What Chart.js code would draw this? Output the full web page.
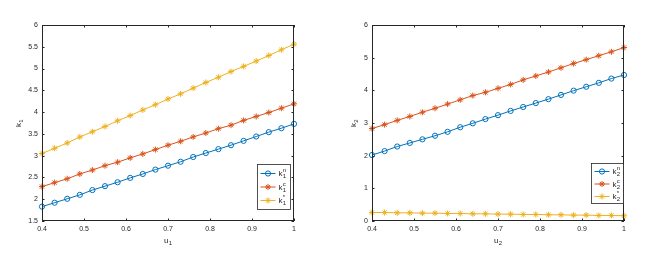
<!DOCTYPE html>
<html>
<head>
<meta charset="utf-8">
<script src="https://cdn.jsdelivr.net/npm/chart.js@4.4.1/dist/chart.umd.min.js"></script>
<style>
  html, body { margin: 0; padding: 0; background: #fff; }
  #wrap { position: relative; width: 650px; height: 256px; }
  canvas { position: absolute; top: 0; }
</style>
</head>
<body>
<div id="wrap">
  <canvas id="c1" width="325" height="256" style="left:0px"></canvas>
  <canvas id="c2" width="325" height="256" style="left:325px"></canvas>
</div>
<script>
// ---------- data ----------
const uValues = [0.40, 0.43, 0.46, 0.49, 0.52, 0.55, 0.58, 0.61, 0.64, 0.67, 0.70,
                 0.73, 0.76, 0.79, 0.82, 0.85, 0.88, 0.91, 0.94, 0.97, 1.00];

const k1n = [1.83, 1.92, 2.01, 2.10, 2.21, 2.30, 2.39, 2.49, 2.58, 2.68, 2.77,
             2.86, 2.97, 3.06, 3.15, 3.24, 3.34, 3.44, 3.54, 3.63, 3.73];
const k1c = [2.29, 2.38, 2.47, 2.58, 2.67, 2.77, 2.85, 2.95, 3.04, 3.14, 3.24,
             3.33, 3.43, 3.52, 3.62, 3.70, 3.81, 3.90, 3.99, 4.09, 4.19];
const k1s = [3.05, 3.17, 3.29, 3.43, 3.55, 3.67, 3.80, 3.92, 4.05, 4.17, 4.30,
             4.42, 4.55, 4.68, 4.80, 4.93, 5.05, 5.17, 5.30, 5.43, 5.56];

const k2n = [2.02, 2.14, 2.28, 2.39, 2.50, 2.61, 2.73, 2.87, 2.99, 3.12, 3.24,
             3.37, 3.49, 3.61, 3.73, 3.86, 3.99, 4.11, 4.23, 4.36, 4.47];
const k2c = [2.83, 2.95, 3.08, 3.20, 3.33, 3.45, 3.58, 3.71, 3.84, 3.94, 4.06,
             4.18, 4.32, 4.44, 4.56, 4.69, 4.82, 4.94, 5.06, 5.18, 5.31];
const k2s = [0.26, 0.26, 0.25, 0.25, 0.24, 0.24, 0.23, 0.23, 0.22, 0.22, 0.21,
             0.21, 0.20, 0.20, 0.19, 0.19, 0.18, 0.18, 0.17, 0.17, 0.16];

const seriesSup = ['n', 'c', '*'];
const xTicks1 = { min: 0.4, max: 1, step: 0.1 };
const yTicks1 = { min: 1.5, max: 6, step: 0.5 };
const yTicks2 = { min: 0, max: 6, step: 1 };

// ---------- styling ----------
const COLORS = ['#0072BD', '#D95319', '#EDB120'];
const STYLES = ['circle', 'star', 'star'];
const AXIS = '#262626';
const FONT = '"Liberation Sans", Arial, Helvetica, sans-serif';

function pts(ys) { return uValues.map((x, i) => ({ x: x, y: ys[i] })); }

function drawSubSup(ctx, base, sub, sup, x, y, size) {
  // x,y: left baseline of base text
  ctx.font = size + 'px ' + FONT;
  ctx.textAlign = 'left';
  ctx.textBaseline = 'alphabetic';
  ctx.fillText(base, x, y);
  const w = ctx.measureText(base).width;
  const s = Math.round(size * 0.7);
  ctx.font = s + 'px ' + FONT;
  let w2 = 0;
  if (sub) { ctx.fillText(sub, x + w + 0.3, y + size * 0.28); w2 = ctx.measureText(sub).width; }
  if (sup) { ctx.fillText(sup, x + w + 0.3, y - size * 0.45); }
  return w + Math.max(w2, sup ? ctx.measureText(sup).width : 0);
}

function drawMarker(ctx, style, x, y, r) {
  ctx.beginPath();
  if (style === 'circle') {
    ctx.arc(x, y, r, 0, Math.PI * 2);
  } else {
    for (let k = 0; k < 4; k++) {
      const a = k * Math.PI / 4;
      ctx.moveTo(x - r * Math.cos(a), y - r * Math.sin(a));
      ctx.lineTo(x + r * Math.cos(a), y + r * Math.sin(a));
    }
  }
  ctx.stroke();
}

const matlabPlugin = {
  id: 'matlab',
  afterDraw(chart, args, opts) {
    const ctx = chart.ctx, a = chart.chartArea;
    const xs = chart.scales.x, ys = chart.scales.y;
    ctx.save();
    ctx.strokeStyle = AXIS;
    ctx.lineWidth = 1;
    // box
    ctx.strokeRect(a.left + 0.5, a.top + 0.5, a.right - a.left - 1, a.bottom - a.top - 1);
    // inward ticks
    const tl = 2.5;
    ctx.beginPath();
    xs.ticks.forEach(t => {
      const px = Math.round(xs.getPixelForValue(t.value)) + 0.5;
      ctx.moveTo(px, a.bottom); ctx.lineTo(px, a.bottom - tl);
      ctx.moveTo(px, a.top); ctx.lineTo(px, a.top + tl);
    });
    ys.ticks.forEach(t => {
      const py = Math.round(ys.getPixelForValue(t.value)) + 0.5;
      ctx.moveTo(a.left, py); ctx.lineTo(a.left + tl, py);
      ctx.moveTo(a.right, py); ctx.lineTo(a.right - tl, py);
    });
    ctx.stroke();

    // axis titles
    ctx.fillStyle = AXIS;
    const idx = opts.index;
    // x title
    const xc = (a.left + a.right) / 2;
    drawSubSup(ctx, 'u', idx, null, xc - 4, a.bottom + 22, 8);
    // y title (rotated)
    ctx.save();
    ctx.translate(opts.yTitleX, (a.top + a.bottom) / 2);
    ctx.rotate(-Math.PI / 2);
    drawSubSup(ctx, 'k', idx, null, -4, 0, 8);
    ctx.restore();

    // legend
    const lg = opts.legend;
    const bx = Math.round(a.right - lg.right - lg.w) + 0.5;
    const by = Math.round(a.bottom - lg.bottom - lg.h) + 0.5;
    ctx.fillStyle = '#fff';
    ctx.fillRect(bx, by, lg.w, lg.h);
    ctx.strokeStyle = AXIS;
    ctx.lineWidth = 0.8;
    ctx.strokeRect(bx, by, lg.w, lg.h);
    chart.data.datasets.forEach((ds, i) => {
      const cy = by + lg.pad + i * lg.row;
      ctx.strokeStyle = ds.borderColor;
      ctx.lineWidth = 1;
      ctx.beginPath();
      ctx.moveTo(bx + 3, cy); ctx.lineTo(bx + 18, cy);
      ctx.stroke();
      drawMarker(ctx, ds.pointStyle, bx + 10.5, cy, ds.pointRadius);
      ctx.fillStyle = AXIS;
      drawSubSup(ctx, 'k', idx, seriesSup[i], bx + 21, cy + 2.5, 8);
    });
    ctx.restore();
  }
};

function makeChart(id, idx, series, yT, geom) {
  const datasets = series.map((s, i) => ({
    label: 'k' + idx + seriesSup[i],
    data: pts(s),
    borderColor: COLORS[i],
    backgroundColor: 'rgba(0,0,0,0)',
    pointBorderColor: COLORS[i],
    pointBackgroundColor: 'rgba(0,0,0,0)',
    borderWidth: 1,
    pointBorderWidth: 1,
    pointStyle: STYLES[i],
    pointRadius: STYLES[i] === 'circle' ? 2.6 : 3,
    tension: 0,
    clip: false
  }));
  const fmt = v => String(Math.round(v * 10) / 10);
  return new Chart(document.getElementById(id), {
    type: 'line',
    data: { datasets },
    options: {
      responsive: false,
      animation: false,
      devicePixelRatio: 1,
      layout: { padding: { left: 0, top: geom.top, right: geom.right, bottom: 0 } },
      plugins: {
        legend: { display: false },
        tooltip: { enabled: false },
        matlab: { index: String(idx), legend: geom.legend, yTitleX: geom.yTitleX }
      },
      scales: {
        x: {
          type: 'linear',
          min: xTicks1.min, max: xTicks1.max,
          ticks: { stepSize: xTicks1.step, callback: fmt, padding: 4, color: AXIS,
                   font: { size: 7, family: FONT }, maxRotation: 0, autoSkip: false },
          grid: { display: false, drawTicks: false },
          border: { display: false },
          afterFit: s => { s.height = geom.xh; }
        },
        y: {
          min: yT.min, max: yT.max,
          ticks: { stepSize: yT.step, callback: fmt, padding: 4, color: AXIS,
                   font: { size: 7, family: FONT }, autoSkip: false },
          grid: { display: false, drawTicks: false },
          border: { display: false },
          afterFit: s => { s.width = geom.yw; }
        }
      }
    },
    plugins: [matlabPlugin]
  });
}

makeChart('c1', 1, [k1n, k1c, k1s], yTicks1, {
  top: 25, right: 31, yw: 42, xh: 35, yTitleX: 21,
  legend: { right: 4, bottom: 12, w: 33, h: 45, pad: 9, row: 13.5 }
});
makeChart('c2', 2, [k2n, k2c, k2s], yTicks2, {
  top: 25, right: 26, yw: 47, xh: 35, yTitleX: 31,
  legend: { right: 1, bottom: 18, w: 32, h: 40, pad: 8, row: 12.5 }
});
</script>
</body>
</html>
